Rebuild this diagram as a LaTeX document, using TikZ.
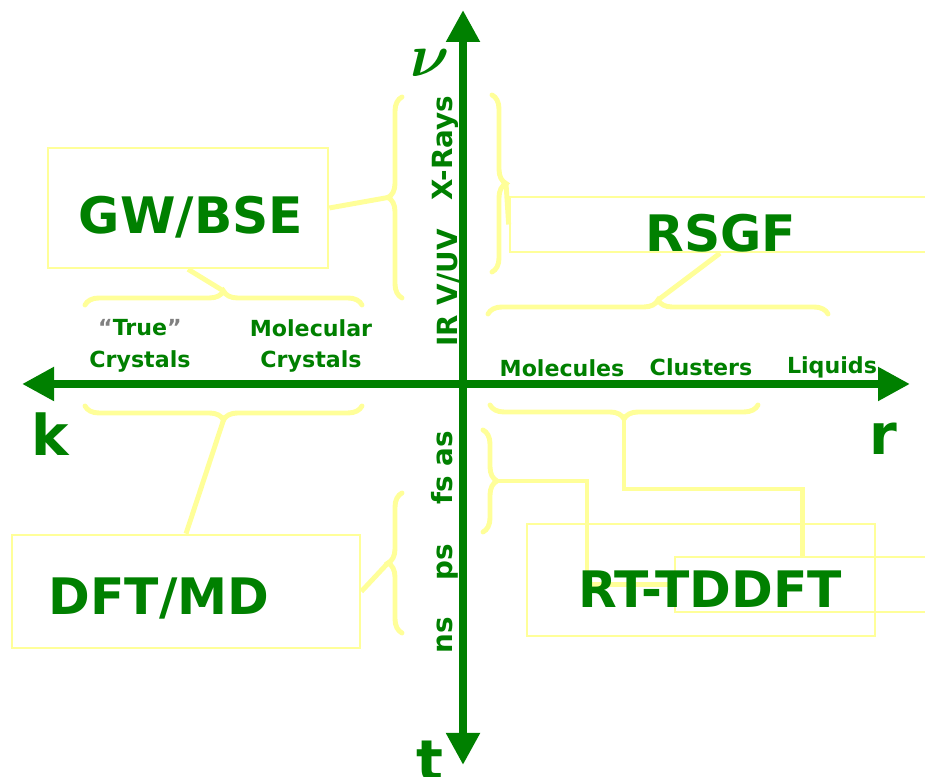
\documentclass[tikz,border=0pt]{standalone}
\usepackage{fontspec}
\setmainfont{DejaVu Sans}
\usepackage{tikz}
\usetikzlibrary{positioning,arrows.meta,decorations.pathreplacing}
\definecolor{axisgreen}{RGB}{0,128,0}
\definecolor{paleyellow}{RGB}{255,255,153}

\begin{document}
\begin{tikzpicture}[x=0.01cm,y=0.01cm,text=axisgreen,
                    >={Triangle[length=0.32cm,width=0.32cm]}]
  \tikzstyle{axis}=[<->,draw=axisgreen,line width=2.3pt]
  \tikzstyle{box}=[draw=paleyellow,line width=0.7pt,inner sep=0pt]
  \tikzstyle{brace}=[draw=paleyellow,line width=1.4pt,line cap=round,decorate,
                     decoration={brace,amplitude=0.14cm}]
  \tikzstyle{link}=[draw=paleyellow,line width=1.4pt]
  \tikzstyle{method}=[font=\bfseries\fontsize{14.3}{17}\selectfont]
  \tikzstyle{axislabel}=[font=\bfseries\fontsize{16}{19}\selectfont,anchor=base]
  \tikzstyle{catlabel}=[font=\bfseries\fontsize{6.3}{9}\selectfont,align=center]
  \tikzstyle{scalelabel}=[font=\bfseries\fontsize{7.9}{9}\selectfont,rotate=90,anchor=base]

  \fill[white] (0,0) rectangle (925,777);
  \useasboundingbox (0,0) rectangle (925,777);

  % boxes
  \node[box,minimum width=2.8cm,minimum height=1.2cm]   (gw)      at (188,569)   {};
  \node[box,minimum width=3.48cm,minimum height=1.13cm] (dft)     at (186,185.5) {};
  \node[box,minimum width=4.2cm,minimum height=0.55cm]  (rsgf)    at (720,552.5) {};
  \node[box,minimum width=3.48cm,minimum height=1.12cm] (rtbig)   at (701,197)   {};
  \node[box,minimum width=2.55cm,minimum height=0.55cm] (rtsmall) at (802.5,192.5) {};

  % braces
  \draw[brace] (402,479) -- (402,680);
  \draw[brace] (85,472) -- (362,472);
  \draw[brace] (492,682) -- (492,505);
  \draw[brace] (488,463) -- (828,463);
  \draw[brace] (362,371) -- (85,371);
  \draw[brace] (758,372) -- (490,372);
  \draw[brace] (402,144) -- (402,284);
  \draw[brace] (483,347) -- (483,245);
  \coordinate (gwtip)    at (388,579.5);
  \coordinate (crysttip) at (223.5,486);
  \coordinate (freqtip)  at (506,593.5);
  \coordinate (clustip)  at (658,477);
  \coordinate (dfttip)   at (223.5,357);
  \coordinate (rtip)     at (624,358);
  \coordinate (nstip)    at (388,214);
  \coordinate (fstip)    at (497,296);

  % connectors
  \draw[link] (gwtip) -- (gw.east);
  \draw[link] (crysttip) -- (gw.south);
  \draw[link] (freqtip) -- (rsgf.west);
  \draw[link] (clustip) -- (rsgf.south);
  \draw[link] (dfttip) -- (dft.north);
  \draw[link] (nstip) -- (dft.east);
  \draw[link] (fstip) -- ++(90,0) |- (rtsmall.west);
  \draw[link] (rtip) -- ++(0,-70) -| (rtsmall.north);

  % axes
  \coordinate (vtop)   at (463,767);
  \coordinate (vbot)   at (463,12);
  \coordinate (hleft)  at (22,393);
  \coordinate (hright) at (910,393);
  \draw[axis] (vbot) -- (vtop);
  \draw[axis] (hleft) -- (hright);

  \node[axislabel] (k) at (50,321) {k};
  \node[axislabel] (r) at (883,322) {r};
  \node[axislabel] (t) at (430,-4) {t};
  \node[font=\fontsize{17}{20}\selectfont\boldmath,anchor=base] (nu) at (430,700) {$\nu$};

  % methods
  \node[method] (gwtext)   at (191,560) {GW/BSE};
  \node[method] (dfttext)  at (159,178) {DFT/MD};
  \node[method] (rsgftext) at (721,544) {RSGF};
  \node[method] (rttext)   at (710,188) {RT-TDDFT};

  % length scales
  \node[catlabel] (truecr) at (140,431) {\textcolor{gray}{“}True\textcolor{gray}{”}\\Crystals};
  \node[catlabel] (molcr)  at (311,431) {Molecular\\Crystals};
  \node[catlabel] (mols)   at (562,409) {Molecules};
  \node[catlabel] (clus)   at (701,410) {Clusters};
  \node[catlabel] (liq)    at (832,410) {Liquids};

  % frequency and time scales
  \node[scalelabel] (xray) at (452,629) {X-Rays};
  \node[scalelabel] (iruv) at (457,489) {IR V/UV};
  \node[scalelabel] (fsas) at (452,309) {fs as};
  \node[scalelabel] (ps)   at (452,215) {ps};
  \node[scalelabel] (ns)   at (452,142) {ns};
\end{tikzpicture}
\end{document}
